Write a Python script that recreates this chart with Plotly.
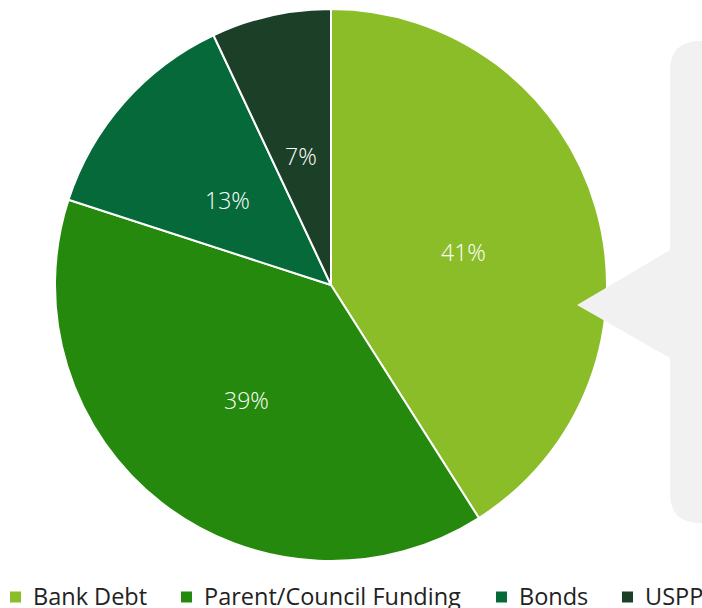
import math
import plotly.graph_objects as go

# Funding mix
categories = ["Bank Debt", "Parent/Council Funding", "Bonds", "USPP"]
shares = [41, 39, 13, 7]
colors = ["#8BBD28", "#25890D", "#06693A", "#1C3F27"]

W, H = 702, 608


def px(x):
    return x / W


def py(y):
    return 1 - y / H


# pie geometry (pixels)
cx, cy, r = 331, 285, 276

fig = go.Figure(
    go.Pie(
        labels=categories,
        values=shares,
        sort=False,
        direction="clockwise",
        rotation=0,
        marker=dict(colors=colors, line=dict(color="white", width=2)),
        textinfo="none",
        showlegend=False,
        domain=dict(x=[px(cx - r), px(cx + r)], y=[py(cy + r), py(cy - r)]),
        hoverinfo="label+percent",
    )
)

# percentage labels at half radius along each slice's mid-angle
total = sum(shares)
annotations = []
cum = 0
for v in shares:
    mid = (cum + v / 2) / total * 2 * math.pi
    cum += v
    lx = cx + 0.5 * r * math.sin(mid)
    ly = cy - 0.5 * r * math.cos(mid)
    annotations.append(
        dict(
            x=px(lx),
            y=py(ly + 6),
            xref="paper",
            yref="paper",
            text=f"{v}%",
            showarrow=False,
            xanchor="center",
            yanchor="middle",
            font=dict(family="Open Sans", size=23, color="white", weight=300),
        )
    )

shapes = []

# legend row along the bottom edge (runs up to the right border)
legend_x = [10, 181, 496, 622]
legend_y = 597
sq = 11
for name, col, lx in zip(categories, colors, legend_x):
    shapes.append(
        dict(
            type="rect",
            xref="paper",
            yref="paper",
            x0=px(lx),
            x1=px(lx + sq),
            y0=py(legend_y + sq / 2),
            y1=py(legend_y - sq / 2),
            fillcolor=col,
            line=dict(width=0),
        )
    )
    annotations.append(
        dict(
            x=px(lx + sq + 10),
            y=py(legend_y - 1.5),
            xref="paper",
            yref="paper",
            text=name,
            showarrow=False,
            xanchor="left",
            yanchor="middle",
            font=dict(family="Open Sans", size=23.5, color="#222222"),
        )
    )

# grey callout panel with pointer toward the pie
x0, x1, y0, y1, rad = 670, 740, 41, 523, 30
tipx, tipy, by0, by1 = 577, 305, 250, 358
path = (
    f"M {px(x0)},{py(y0 + rad)} "
    f"Q {px(x0)},{py(y0)} {px(x0 + rad)},{py(y0)} "
    f"L {px(x1)},{py(y0)} L {px(x1)},{py(y1)} "
    f"L {px(x0 + rad)},{py(y1)} "
    f"Q {px(x0)},{py(y1)} {px(x0)},{py(y1 - rad)} "
    f"L {px(x0)},{py(by1)} L {px(tipx)},{py(tipy)} L {px(x0)},{py(by0)} Z"
)
shapes.append(
    dict(
        type="path",
        path=path,
        xref="paper",
        yref="paper",
        fillcolor="#F1F1F1",
        line=dict(width=0),
        layer="above",
    )
)

fig.update_layout(
    width=W,
    height=H,
    margin=dict(l=0, r=0, t=0, b=0),
    paper_bgcolor="white",
    plot_bgcolor="white",
    showlegend=False,
    annotations=annotations,
    shapes=shapes,
)

fig.write_html("out.html")
